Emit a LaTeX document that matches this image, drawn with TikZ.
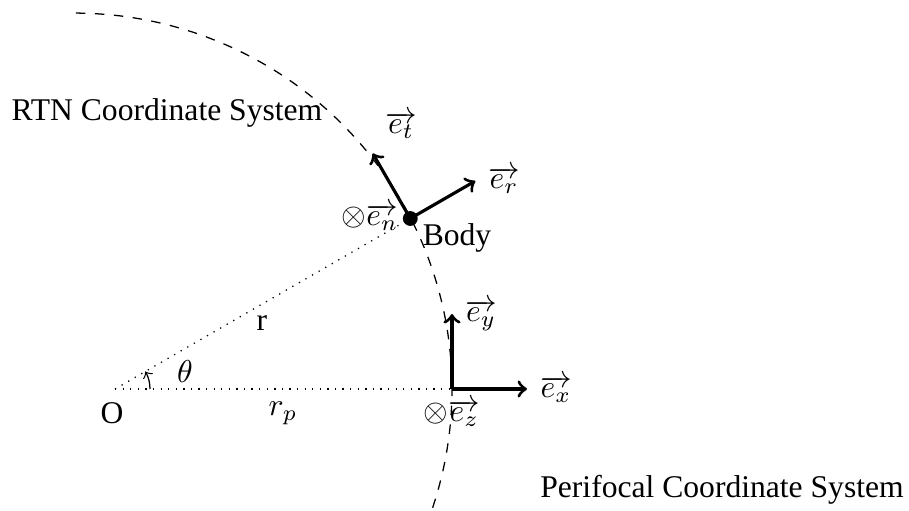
\documentclass[tikz,border=0pt]{standalone}
\usepackage{fontspec}
\setmainfont{Liberation Serif}
\begin{document}
\begin{tikzpicture}[x=0.3165pt,y=0.3165pt,
  vec/.style={->,line width=1pt},
  lbl/.style={inner sep=0pt,anchor=center},
  guide/.style={dotted,thin}]
\useasboundingbox (0,0) rectangle (909,510);
% orbit
\draw[dashed,thin] plot[domain=-20.5:96,samples=120,smooth]
  ({115+373.7/(1+0.109*cos(\x))*cos(\x)},{121+373.7/(1+0.109*cos(\x))*sin(\x)});
% points
\coordinate (o) at (115,121);
\coordinate (p) at (452,121);
\node[circle,fill=black,inner sep=0pt,minimum size=4.7pt] (body) at (410.3,291.5) {};
\coordinate (ertip) at (475.3,329);
\coordinate (ettip) at (372.8,356.5);
\coordinate (extip) at (527,121);
\coordinate (eytip) at (452,196);
\coordinate (arcstart) at (150,121);
% guides
\draw[guide] (o) -- (body.center);
\draw[guide] (o) -- (p);
\draw[->,thin] (arcstart) arc[start angle=0,end angle=30,radius=35];
% vectors
\draw[vec] (body.center) -- (ertip);
\draw[vec] (body.center) -- (ettip);
\draw[vec] (p) -- (extip);
\draw[vec] (p) -- (eytip);
% labels
\node[lbl] (let) at (401,385) {$\overrightarrow{e_t}$};
\node[lbl] (ler) at (504,330) {$\overrightarrow{e_r}$};
\node[lbl] (len) at (370,293) {$\otimes\overrightarrow{e_n}$};
\node[lbl] (lbody) at (457,272) {Body};
\node[lbl] (ley) at (481,195) {$\overrightarrow{e_y}$};
\node[lbl] (lex) at (556,121) {$\overrightarrow{e_x}$};
\node[lbl] (lez) at (452,97) {$\otimes\overrightarrow{e_z}$};
\node[lbl] (lo) at (112,97) {O};
\node[lbl] (lr) at (262,187) {r};
\node[lbl] (lth) at (185,138) {$\theta$};
\node[lbl] (lrp) at (283,97) {$r_p$};
\node[lbl] (lrtn) at (167,397) {RTN Coordinate System};
\node[lbl] (lperi) at (722,20) {Perifocal Coordinate System};
\end{tikzpicture}
\end{document}
